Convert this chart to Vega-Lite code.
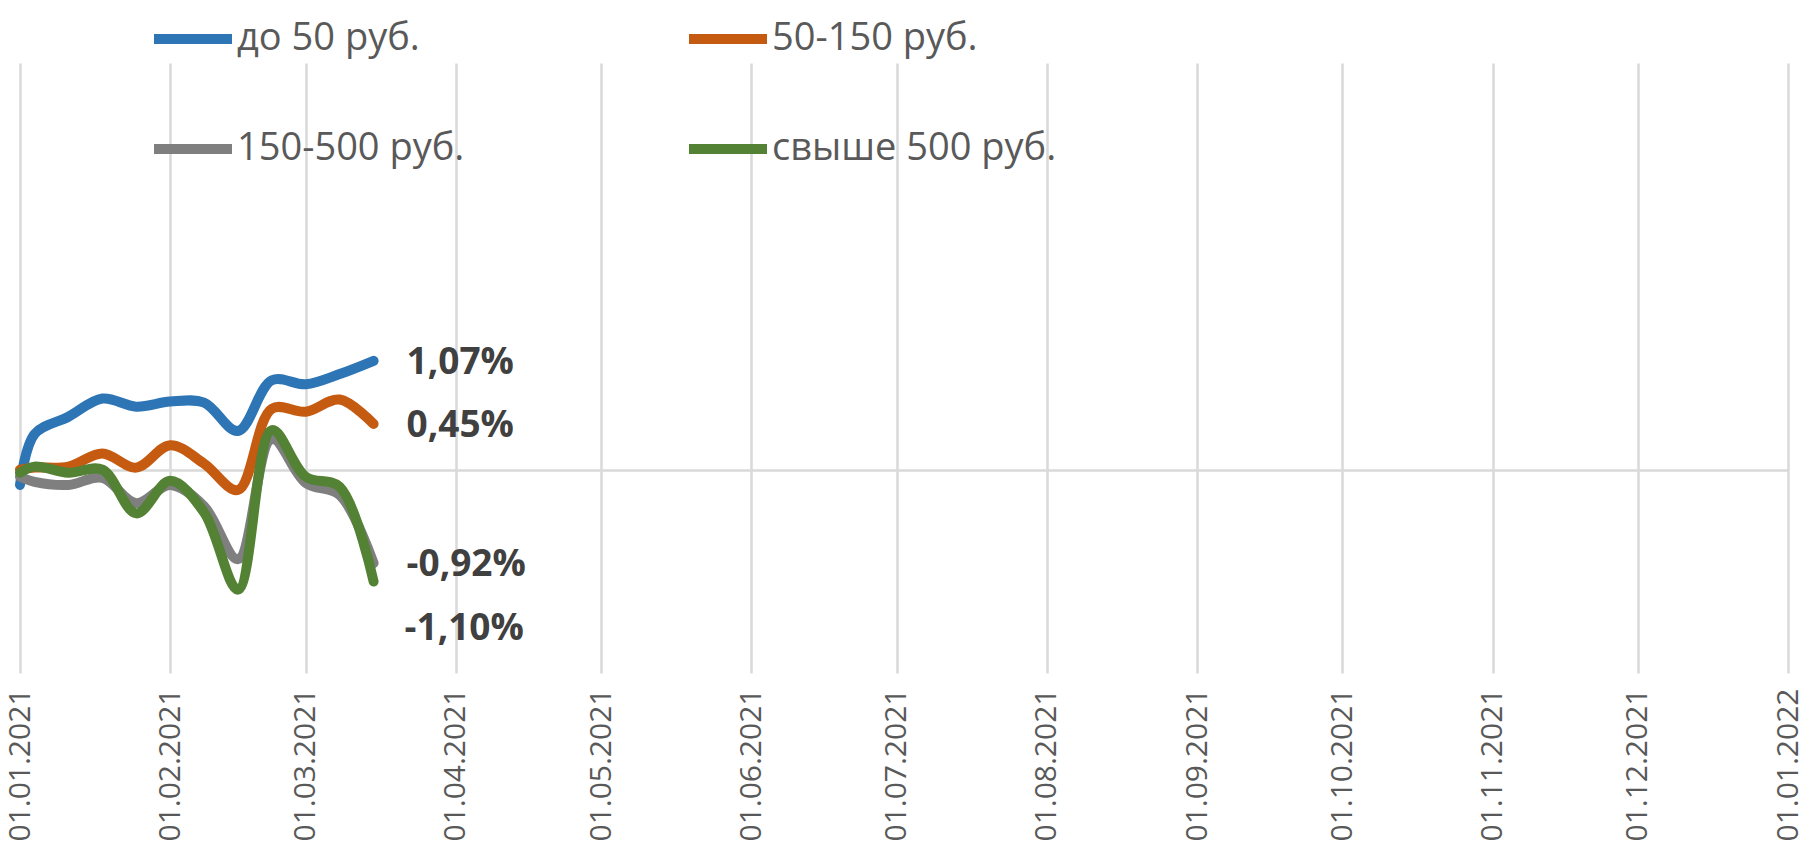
{
  "$schema": "https://vega.github.io/schema/vega-lite/v6.json",
  "width": 1768,
  "height": 610,
  "autosize": {"type": "none"},
  "padding": {"left": 20, "top": 63, "right": 17, "bottom": 173},
  "background": "white",
  "config": {"view": {"stroke": null}, "font": "Open Sans"},
  "datasets": {
    "series": [
      {"date": "2021-01-01", "series": "до 50 руб.", "value": -0.15},
      {"date": "2021-01-04", "series": "до 50 руб.", "value": 0.35},
      {"date": "2021-01-11", "series": "до 50 руб.", "value": 0.52},
      {"date": "2021-01-18", "series": "до 50 руб.", "value": 0.70},
      {"date": "2021-01-25", "series": "до 50 руб.", "value": 0.62},
      {"date": "2021-02-01", "series": "до 50 руб.", "value": 0.67},
      {"date": "2021-02-08", "series": "до 50 руб.", "value": 0.66},
      {"date": "2021-02-15", "series": "до 50 руб.", "value": 0.38},
      {"date": "2021-02-22", "series": "до 50 руб.", "value": 0.88},
      {"date": "2021-03-01", "series": "до 50 руб.", "value": 0.84},
      {"date": "2021-03-08", "series": "до 50 руб.", "value": 0.94},
      {"date": "2021-03-15", "series": "до 50 руб.", "value": 1.07},
      {"date": "2021-01-01", "series": "50-150 руб.", "value": 0.0},
      {"date": "2021-01-04", "series": "50-150 руб.", "value": 0.02},
      {"date": "2021-01-11", "series": "50-150 руб.", "value": 0.03},
      {"date": "2021-01-18", "series": "50-150 руб.", "value": 0.16},
      {"date": "2021-01-25", "series": "50-150 руб.", "value": 0.02},
      {"date": "2021-02-01", "series": "50-150 руб.", "value": 0.24},
      {"date": "2021-02-08", "series": "50-150 руб.", "value": 0.06},
      {"date": "2021-02-15", "series": "50-150 руб.", "value": -0.20},
      {"date": "2021-02-22", "series": "50-150 руб.", "value": 0.60},
      {"date": "2021-03-01", "series": "50-150 руб.", "value": 0.57},
      {"date": "2021-03-08", "series": "50-150 руб.", "value": 0.69},
      {"date": "2021-03-15", "series": "50-150 руб.", "value": 0.45},
      {"date": "2021-01-01", "series": "150-500 руб.", "value": -0.07},
      {"date": "2021-01-04", "series": "150-500 руб.", "value": -0.12},
      {"date": "2021-01-11", "series": "150-500 руб.", "value": -0.15},
      {"date": "2021-01-18", "series": "150-500 руб.", "value": -0.08},
      {"date": "2021-01-25", "series": "150-500 руб.", "value": -0.33},
      {"date": "2021-02-01", "series": "150-500 руб.", "value": -0.15},
      {"date": "2021-02-08", "series": "150-500 руб.", "value": -0.36},
      {"date": "2021-02-15", "series": "150-500 руб.", "value": -0.88},
      {"date": "2021-02-22", "series": "150-500 руб.", "value": 0.30},
      {"date": "2021-03-01", "series": "150-500 руб.", "value": -0.13},
      {"date": "2021-03-08", "series": "150-500 руб.", "value": -0.25},
      {"date": "2021-03-15", "series": "150-500 руб.", "value": -0.92},
      {"date": "2021-01-01", "series": "свыше 500 руб.", "value": -0.03},
      {"date": "2021-01-04", "series": "свыше 500 руб.", "value": 0.03},
      {"date": "2021-01-11", "series": "свыше 500 руб.", "value": -0.03},
      {"date": "2021-01-18", "series": "свыше 500 руб.", "value": 0.0},
      {"date": "2021-01-25", "series": "свыше 500 руб.", "value": -0.43},
      {"date": "2021-02-01", "series": "свыше 500 руб.", "value": -0.11},
      {"date": "2021-02-08", "series": "свыше 500 руб.", "value": -0.42},
      {"date": "2021-02-15", "series": "свыше 500 руб.", "value": -1.18},
      {"date": "2021-02-22", "series": "свыше 500 руб.", "value": 0.39},
      {"date": "2021-03-01", "series": "свыше 500 руб.", "value": -0.07},
      {"date": "2021-03-08", "series": "свыше 500 руб.", "value": -0.17},
      {"date": "2021-03-15", "series": "свыше 500 руб.", "value": -1.10}
    ],
    "labels": [
      {"date": "2021-03-15", "series": "до 50 руб.", "value": 1.07, "label": "1,07%"},
      {"date": "2021-03-15", "series": "50-150 руб.", "value": 0.45, "label": "0,45%"},
      {"date": "2021-03-15", "series": "150-500 руб.", "value": -0.92, "label": "-0,92%"},
      {"date": "2021-03-15", "series": "свыше 500 руб.", "value": -1.10, "label": "-1,10%"}
    ]
  },
  "encoding": {
    "x": {
      "field": "date",
      "type": "temporal",
      "scale": {
        "type": "utc",
        "domain": [
          {"year": 2021, "month": 1, "date": 1, "utc": true},
          {"year": 2022, "month": 1, "date": 1, "utc": true}
        ]
      },
      "axis": {
        "title": null,
        "labelExpr": "utcFormat(datum.value, '%d.%m.%Y')",
        "tickCount": {"interval": "month", "step": 1},
        "labelAngle": -90,
        "labelFont": "Open Sans",
        "labelFontSize": 30,
        "labelColor": "#595959",
        "labelPadding": 15,
        "labelOverlap": false,
        "labelFlush": false,
        "labelBound": false,
        "ticks": false,
        "domain": false,
        "grid": true,
        "gridColor": "#d9d9d9",
        "gridWidth": 2.5
      }
    },
    "y": {
      "field": "value",
      "type": "quantitative",
      "scale": {"domain": [-2, 4], "nice": false, "zero": false},
      "axis": {
        "title": null,
        "labels": false,
        "ticks": false,
        "domain": false,
        "grid": true,
        "values": [0],
        "gridColor": "#d9d9d9",
        "gridWidth": 2.5
      }
    }
  },
  "layer": [
    {
      "data": {"name": "series"},
      "mark": {"type": "line", "interpolate": "catmull-rom", "strokeWidth": 10, "strokeCap": "round", "strokeJoin": "round"},
      "encoding": {
        "color": {
          "field": "series",
          "type": "nominal",
          "sort": ["до 50 руб.", "50-150 руб.", "150-500 руб.", "свыше 500 руб."],
          "scale": {
            "domain": ["до 50 руб.", "50-150 руб.", "150-500 руб.", "свыше 500 руб."],
            "range": ["#2E75B6", "#C55A11", "#7F7F7F", "#548235"]
          },
          "legend": {
            "title": null,
            "orient": "none",
            "legendX": 129,
            "legendY": -68,
            "direction": "horizontal",
            "columns": 2,
            "columnPadding": 204,
            "rowPadding": 46,
            "symbolType": "stroke",
            "symbolSize": 6084,
            "symbolStrokeWidth": 10,
            "labelFont": "Open Sans",
            "labelFontSize": 38,
            "labelColor": "#595959",
            "labelOffset": 0,
            "labelLimit": 400
          }
        },
        "order": {"field": "date", "type": "temporal"}
      }
    },
    {
      "data": {"name": "labels"},
      "transform": [{"filter": "datum.series !== 'свыше 500 руб.'"}],
      "mark": {"type": "text", "align": "left", "baseline": "middle", "dx": 33, "dy": 2, "font": "Open Sans", "fontWeight": "bold", "fontSize": 37, "color": "#404040"},
      "encoding": {"text": {"field": "label", "type": "nominal"}}
    },
    {
      "data": {"name": "labels"},
      "transform": [{"filter": "datum.series === 'свыше 500 руб.'"}],
      "mark": {"type": "text", "align": "left", "baseline": "middle", "dx": 31, "dy": 47, "font": "Open Sans", "fontWeight": "bold", "fontSize": 37, "color": "#404040"},
      "encoding": {"text": {"field": "label", "type": "nominal"}}
    }
  ]
}
